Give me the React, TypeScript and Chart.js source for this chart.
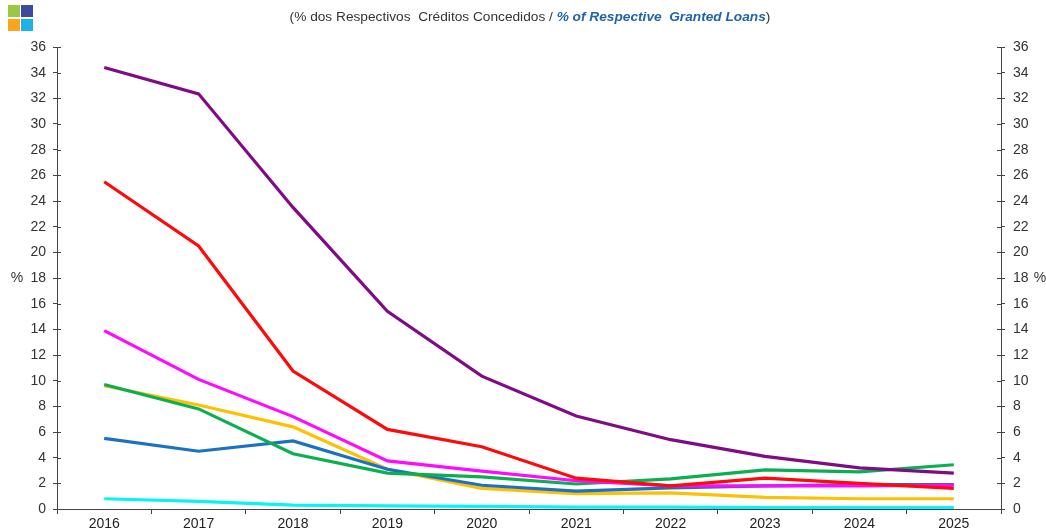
import React, { useEffect, useRef } from "react";
import { Chart, registerables } from "chart.js";

Chart.register(...registerables);

const years = ["2016", "2017", "2018", "2019", "2020", "2021", "2022", "2023", "2024", "2025"];
const yTicks = [0, 2, 4, 6, 8, 10, 12, 14, 16, 18, 20, 22, 24, 26, 28, 30, 32, 34, 36];

const purpleSeries = [34.4, 32.35, 23.5, 15.4, 10.35, 7.25, 5.4, 4.1, 3.2, 2.8];
const redSeries = [25.5, 20.5, 10.75, 6.2, 4.85, 2.4, 1.8, 2.4, 2.0, 1.6];
const magentaSeries = [13.9, 10.1, 7.2, 3.75, 2.95, 2.2, 1.8, 1.8, 1.8, 1.85];
const greenSeries = [9.7, 7.8, 4.3, 2.8, 2.5, 1.95, 2.35, 3.05, 2.9, 3.45];
const blueSeries = [5.5, 4.5, 5.3, 3.1, 1.85, 1.4, 1.65, 1.8, 1.9, 1.9];
const orangeSeries = [9.6, 8.1, 6.4, 3.1, 1.6, 1.2, 1.25, 0.9, 0.8, 0.8];
const cyanSeries = [0.8, 0.6, 0.3, 0.25, 0.2, 0.15, 0.15, 0.1, 0.1, 0.1];

const FONT = "'Liberation Sans', Arial, sans-serif";
const AXIS = "#444444";

const crossTicks = {
  id: "crossTicks",
  afterDraw(chart: any) {
    const ctx = chart.ctx;
    const y = chart.scales.y;
    const y2 = chart.scales.y2;
    ctx.save();
    ctx.strokeStyle = AXIS;
    ctx.lineWidth = 1;
    yTicks.forEach((v) => {
      const py = Math.round(y.getPixelForValue(v)) + 0.5;
      ctx.beginPath();
      ctx.moveTo(y.right, py);
      ctx.lineTo(y.right + 4, py);
      ctx.stroke();
      const py2 = Math.round(y2.getPixelForValue(v)) + 0.5;
      ctx.beginPath();
      ctx.moveTo(y2.left - 4, py2);
      ctx.lineTo(y2.left, py2);
      ctx.stroke();
    });
    const mid = (chart.chartArea.top + chart.chartArea.bottom) / 2;
    ctx.fillStyle = "#333333";
    ctx.font = "14px " + FONT;
    ctx.textBaseline = "middle";
    ctx.textAlign = "center";
    ctx.fillText("%", 17, mid);
    ctx.fillText("%", 1040, mid);
    ctx.restore();
  },
};

function ChartView() {
  const ref = useRef<HTMLCanvasElement | null>(null);
  useEffect(() => {
    if (!ref.current) return;
    const mk = (label: string, data: number[], color: string) => ({
      label,
      data,
      borderColor: color,
      backgroundColor: color,
      borderWidth: 3.2,
      pointRadius: 0,
      tension: 0,
      fill: false,
    });
    const tickFont = { family: FONT, size: 14 };
    const chart = new Chart(ref.current, {
      type: "line",
      data: {
        labels: years,
        datasets: [
          mk("purple", purpleSeries, "#800A88"),
          mk("red", redSeries, "#FF0A0A"),
          mk("magenta", magentaSeries, "#FF0AFF"),
          mk("green", greenSeries, "#0AB050"),
          mk("blue", blueSeries, "#1A72C2"),
          mk("orange", orangeSeries, "#FFC000"),
          mk("cyan", cyanSeries, "#0AF2F2"),
        ],
      },
      options: {
        animation: false,
        responsive: false,
        devicePixelRatio: 1,
        layout: { padding: { top: 47, left: 0, right: 0, bottom: 0 } },
        plugins: { legend: { display: false }, tooltip: { enabled: false }, title: { display: false } },
        scales: {
          x: {
            type: "category",
            offset: true,
            grid: { offset: true, drawOnChartArea: false, tickLength: 5, color: AXIS },
            border: { color: AXIS, width: 1 },
            ticks: { color: "#222222", font: tickFont, padding: 2, maxRotation: 0 },
            afterFit: (s: any) => {
              s.height = 23;
            },
          },
          y: {
            position: "left",
            min: 0,
            max: 36,
            ticks: { stepSize: 2, color: "#333333", font: tickFont, padding: 7 },
            grid: { drawOnChartArea: false, tickLength: 4, color: AXIS },
            border: { color: AXIS, width: 1 },
            afterFit: (s: any) => {
              s.width = 57;
            },
          },
          y2: {
            position: "right",
            min: 0,
            max: 36,
            ticks: { stepSize: 2, color: "#333333", font: tickFont, padding: 8 },
            grid: { drawOnChartArea: false, tickLength: 4, color: AXIS },
            border: { color: AXIS, width: 1 },
            afterFit: (s: any) => {
              s.width = 45;
            },
          },
        },
      },
      plugins: [crossTicks],
    });
    return () => chart.destroy();
  }, []);
  return <canvas ref={ref} width={1046} height={532} style={{ position: "absolute", left: 0, top: 0 }} />;
}

export default function App() {
  const sq = (left: number, top: number, color: string) => (
    <div style={{ position: "absolute", left, top, width: 12, height: 12, background: color }} />
  );
  return (
    <div style={{ position: "absolute", left: 0, top: 0, width: 1046, height: 532, background: "#ffffff", overflow: "hidden" }}>
      <ChartView />
      {sq(8, 5, "#9CC742")}
      {sq(21, 5, "#3E4A9E")}
      {sq(8, 19, "#F9A61C")}
      {sq(21, 19, "#1DB1E6")}
      <div
        style={{
          position: "absolute",
          left: 0,
          top: 9,
          width: 1060,
          textAlign: "center",
          fontFamily: FONT,
          fontSize: 13.7,
          color: "#333333",
          whiteSpace: "pre",
          lineHeight: "16px",
        }}
      >
        {"(% dos Respectivos  Créditos Concedidos / "}
        <span style={{ color: "#1F63A8", fontWeight: "bold", fontStyle: "italic" }}>{"% of Respective  Granted Loans"}</span>
        {")"}
      </div>
    </div>
  );
}
